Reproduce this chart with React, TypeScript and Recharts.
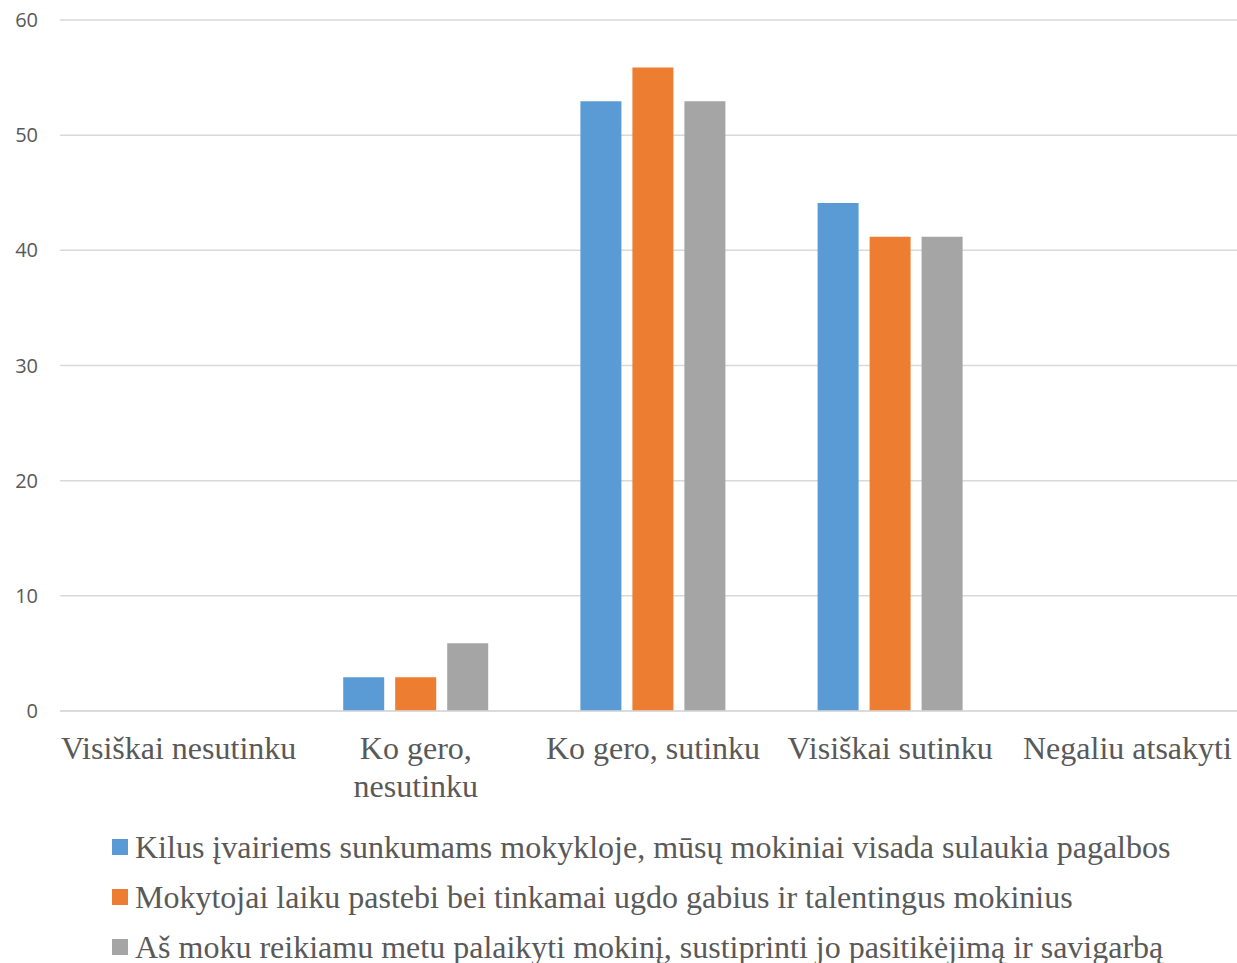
import React from 'react';
import { BarChart, Bar, XAxis, YAxis, CartesianGrid, Legend } from 'recharts';

const categories = ['Visiškai nesutinku', 'Ko gero, nesutinku', 'Ko gero, sutinku', 'Visiškai sutinku', 'Negaliu atsakyti'];
const categoryLines = [['Visiškai nesutinku'], ['Ko gero,', 'nesutinku'], ['Ko gero, sutinku'], ['Visiškai sutinku'], ['Negaliu atsakyti']];
const seriesNames = [
  'Kilus įvairiems sunkumams mokykloje, mūsų mokiniai visada sulaukia pagalbos',
  'Mokytojai laiku pastebi bei tinkamai ugdo gabius ir talentingus mokinius',
  'Aš moku reikiamu metu palaikyti mokinį, sustiprinti jo pasitikėjimą ir savigarbą',
];
const seriesA = [0, 2.94, 52.94, 44.12, 0];
const seriesB = [0, 2.94, 55.88, 41.18, 0];
const seriesC = [0, 5.88, 52.94, 41.18, 0];
const yTicks = [0, 10, 20, 30, 40, 50, 60];
const colors = ['#5B9BD5', '#ED7D31', '#A5A5A5'];

const data = categories.map((c, i) => ({ name: c, a: seriesA[i], b: seriesB[i], c: seriesC[i] }));
const keys = ['a', 'b', 'c'];

const serif = '"Liberation Serif", "Times New Roman", serif';

const XTick = (props: any) => {
  const { x, y, payload } = props;
  const idx = categories.indexOf(payload.value);
  const lines = idx >= 0 ? categoryLines[idx] : [payload.value];
  return (
    <text
      x={x}
      y={y}
      textAnchor="middle"
      style={{ fontFamily: serif, fontSize: 32, fill: '#595959' }}
    >
      {lines.map((l: string, i: number) => (
        <tspan key={i} x={x} dy={i === 0 ? 40 : 38}>{l}</tspan>
      ))}
    </text>
  );
};

const LegendContent = () => (
  <div style={{ paddingLeft: 112, height: 141, boxSizing: 'border-box', paddingTop: 0 }}>
    {seriesNames.map((n, i) => (
      <div key={n} style={{ display: 'flex', alignItems: 'center', height: 50, whiteSpace: 'nowrap' }}>
        <span style={{ display: 'inline-block', width: 16, height: 16, background: colors[i], marginRight: 7, flexShrink: 0 }} />
        <span style={{ fontFamily: serif, fontSize: 32, color: '#595959' }}>{n}</span>
      </div>
    ))}
  </div>
);

export default function App() {
  return (
    <div style={{ position: 'absolute', left: 0, top: 0, width: 1237, height: 963, background: '#fff', overflow: 'hidden' }}>
      <BarChart
        width={1246}
        height={963}
        data={data}
        margin={{ top: 20, right: 0, left: 0, bottom: 0 }}
        barSize={41}
        barGap={11}
      >
        <CartesianGrid vertical={false} stroke="#D9D9D9" strokeWidth={1.5} />
        <XAxis
          dataKey="name"
          axisLine={{ stroke: '#D9D9D9', strokeWidth: 1.5 }}
          tickLine={false}
          height={111}
          interval={0}
          tick={<XTick />}
        />
        <YAxis
          domain={[0, 60]}
          ticks={yTicks}
          width={60}
          axisLine={false}
          tickLine={false}
          tickSize={0}
          tickMargin={22}
          tick={{ fontFamily: '"Open Sans", sans-serif', fontSize: 20, fill: '#595959' }}
        />
        <Legend verticalAlign="bottom" content={<LegendContent />} />
        {keys.map((k, i) => (
          <Bar key={k} dataKey={k} name={seriesNames[i]} fill={colors[i]} isAnimationActive={false} />
        ))}
      </BarChart>
    </div>
  );
}
